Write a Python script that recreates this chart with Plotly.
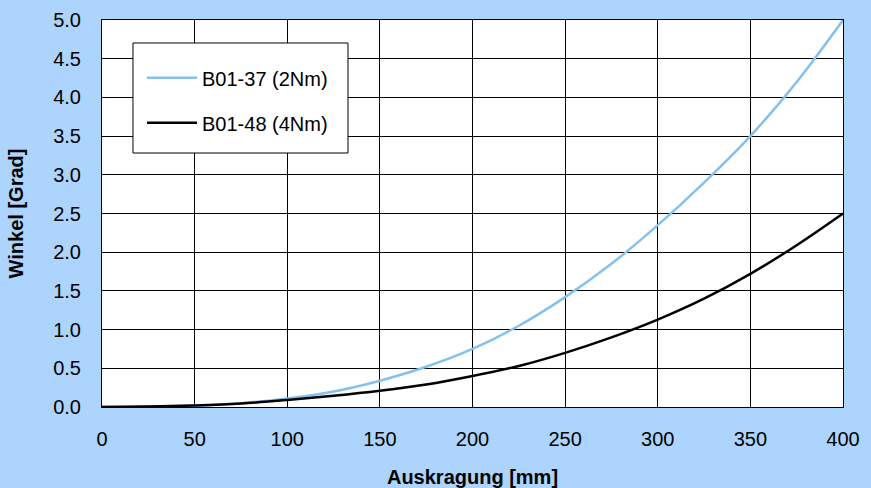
import plotly.graph_objects as go

auskragung = [0, 25, 50, 75, 100, 125, 150, 175, 200, 225, 250, 275, 300, 325, 350, 375, 400]
b01_37 = [0.0, 0.005, 0.02, 0.05, 0.11, 0.2, 0.34, 0.52, 0.75, 1.05, 1.42, 1.85, 2.35, 2.9, 3.5, 4.2, 5.0]
b01_48 = [0.0, 0.005, 0.02, 0.045, 0.09, 0.145, 0.21, 0.29, 0.40, 0.53, 0.70, 0.90, 1.13, 1.40, 1.72, 2.09, 2.5]

names = ["B01-37 (2Nm)", "B01-48 (4Nm)"]
x_ticks = [0, 50, 100, 150, 200, 250, 300, 350, 400]
y_ticks = [0.0, 0.5, 1.0, 1.5, 2.0, 2.5, 3.0, 3.5, 4.0, 4.5, 5.0]

font = "Liberation Sans, Arial, sans-serif"
fs = 20

fig = go.Figure()
fig.add_trace(go.Scatter(x=auskragung, y=b01_37, mode="lines", name=names[0],
                         legendgroup="a",
                         line=dict(color="#85c1ec", width=2.5, shape="spline", smoothing=1.0)))
fig.add_trace(go.Scatter(x=auskragung, y=b01_48, mode="lines", name=names[1],
                         legendgroup="b",
                         line=dict(color="#000000", width=2.5, shape="spline", smoothing=1.0)))

fig.update_layout(
    width=871, height=488,
    margin=dict(l=102, r=28, t=20, b=81, pad=0, autoexpand=False),
    paper_bgcolor="#acd4fc",
    plot_bgcolor="#ffffff",
    font=dict(family=font, size=fs, color="#000000"),
    showlegend=True,
    legend=dict(x=0.054, y=0.901, xanchor="left", yanchor="top",
                bgcolor="rgba(0,0,0,0)", borderwidth=0,
                font=dict(family=font, size=fs, color="#000000"),
                tracegroupgap=16, itemwidth=50),
    shapes=[dict(type="rect", xref="paper", yref="paper",
                 x0=0.0418, x1=0.3320, y0=0.6563, y1=0.9406,
                 line=dict(color="#000000", width=1), fillcolor="#ffffff",
                 layer="above")],
    xaxis=dict(range=[0, 400], tickvals=x_ticks, ticktext=[str(v) for v in x_ticks],
               showgrid=True, gridcolor="#000000", gridwidth=1,
               showline=True, linecolor="#000000", linewidth=1, mirror=True,
               zeroline=False, ticks="", ticklabelstandoff=14, automargin=False,
               tickfont=dict(family=font, size=fs),
               title=dict(text="<b>Auskragung [mm]</b>", font=dict(family=font, size=fs), standoff=20)),
    yaxis=dict(range=[0, 5], tickvals=y_ticks, ticktext=["%.1f" % v for v in y_ticks],
               showgrid=True, gridcolor="#000000", gridwidth=1,
               showline=True, linecolor="#000000", linewidth=1, mirror=True,
               zeroline=False, ticks="", ticklabelstandoff=16, automargin=False,
               tickfont=dict(family=font, size=fs),
               title=dict(text="<b>Winkel [Grad]</b>", font=dict(family=font, size=fs), standoff=24)),
)

fig.write_html("out.html", config={"displayModeBar": False},
               post_script="document.body.style.margin='0';document.body.style.overflow='hidden';")
